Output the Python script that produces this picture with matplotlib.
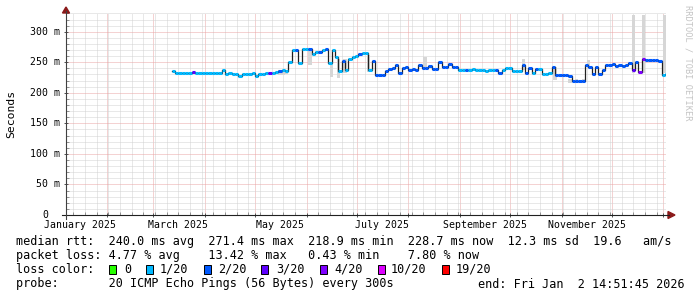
import numpy as np
import matplotlib
matplotlib.use('Agg')
import matplotlib.pyplot as plt
import matplotlib.dates as mdates
from matplotlib.patches import Rectangle, Polygon
from matplotlib.lines import Line2D
from matplotlib.ticker import MultipleLocator, NullFormatter

W, H = 697, 297
MONO = 'DejaVu Sans Mono'

# median rtt in ms, one sample every 2 days starting 2025-03-12
first_sample = '2025-03-12'
median_ms = [
    236, 233, 232, 232, 233, 232, 234, 233, 233, 232,
    233, 232, 233, 232, 233, 238, 231, 232, 230, 231,
    227, 230, 231, 230, 232, 227, 230, 231, 232, 232,
    233, 234, 236, 237, 236, 251, 270, 270, 248, 271,
    271, 271, 264, 267, 266, 270, 271, 249, 270, 258,
    236, 252, 237, 256, 258, 260, 263, 265, 265, 237,
    252, 229, 229, 229, 236, 239, 240, 245, 232, 241,
    242, 238, 239, 237, 246, 240, 240, 244, 239, 239,
    250, 243, 243, 247, 243, 243, 238, 237, 237, 238,
    239, 238, 237, 238, 236, 237, 237, 237, 233, 237,
    240, 240, 236, 236, 236, 245, 232, 240, 232, 239,
    239, 231, 230, 232, 243, 229, 229, 229, 229, 228,
    220, 219, 220, 220, 245, 243, 230, 243, 230, 237,
    246, 245, 247, 244, 246, 244, 245, 248, 238, 251,
    234, 256, 253, 253, 253, 253, 252, 229, 230,
]
# loss bucket of each sample (index into loss_labels)
loss_idx = [
    1, 1, 1, 1, 1, 1, 3, 1, 1, 1,
    1, 1, 1, 1, 1, 1, 1, 1, 1, 1,
    1, 1, 1, 1, 1, 1, 1, 1, 1, 3,
    1, 1, 2, 1, 1, 1, 1, 2, 1, 1,
    1, 2, 1, 1, 2, 1, 2, 1, 1, 1,
    1, 2, 1, 1, 1, 1, 2, 1, 1, 1,
    2, 2, 2, 2, 2, 2, 2, 2, 2, 2,
    2, 2, 2, 2, 2, 2, 2, 2, 2, 2,
    2, 2, 2, 2, 2, 2, 1, 1, 2, 1,
    1, 1, 1, 1, 1, 1, 1, 2, 2, 1,
    1, 1, 1, 1, 1, 2, 2, 2, 1, 2,
    1, 1, 1, 1, 2, 2, 2, 2, 2, 2,
    2, 2, 2, 2, 2, 2, 2, 2, 2, 2,
    2, 2, 2, 2, 2, 2, 2, 2, 3, 2,
    4, 4, 2, 2, 2, 2, 2, 1, 1,
]

# visible smoke (spread of the pings) in ms
smoke_dates = ['2025-05-15', '2025-05-17', '2025-05-19', '2025-06-02', '2025-06-15',
               '2025-06-19', '2025-06-23', '2025-07-07', '2025-08-10', '2025-10-08',
               '2025-10-27', '2025-11-05', '2025-11-09', '2025-11-13', '2025-11-16',
               '2025-12-13', '2025-12-19', '2026-01-01']
smoke_lo = [229, 229, 230, 245, 226, 224, 232, 234, 240, 237,
            221, 216, 216, 216, 240, 232, 232, 232]
smoke_hi = [238, 238, 238, 270, 251, 256, 255, 262, 259, 256,
            243, 222, 222, 222, 254, 327, 327, 327]

loss_labels = ['0', '1/20', '2/20', '3/20', '4/20', '10/20', '19/20']
loss_colors = ['#26ff00', '#00b8ff', '#0059ff', '#5e00ff', '#7e00ff', '#dd00ff', '#ff0000']

month_labels = ['January 2025', 'March 2025', 'May 2025', 'July 2025',
                'September 2025', 'November 2025']
month_label_dates = ['2025-01-16', '2025-03-16', '2025-05-16', '2025-07-16',
                     '2025-09-16', '2025-11-16']
ytick_vals = [0, 50, 100, 150, 200, 250, 300]
ytick_labels = ['0', '50 m', '100 m', '150 m', '200 m', '250 m', '300 m']

t_start = '2025-01-07T14:51:45'
t_end = '2026-01-02T14:51:45'

line_rtt = 'median rtt:  240.0 ms avg  271.4 ms max  218.9 ms min  228.7 ms now  12.3 ms sd  19.6   am/s'
line_loss = 'packet loss: 4.77 % avg    13.42 % max   0.43 % min    7.80 % now'
line_probe = 'probe:       20 ICMP Echo Pings (56 Bytes) every 300s'
line_end = 'end: Fri Jan  2 14:51:45 2026'


def fx(px):
    return px / W


def fy(py):
    return 1 - py / H


fig = plt.figure(figsize=(W / 100, H / 100), dpi=100)
fig.patch.set_facecolor('white')
ax = fig.add_axes([fx(66), fy(215), 600 / W, 201.6 / H])

days = np.datetime64(first_sample) + np.arange(len(median_ms)) * np.timedelta64(2, 'D')
x = mdates.date2num(days)
med = np.array(median_ms, dtype=float)

# smoke
sx = mdates.date2num(np.array(smoke_dates, dtype='datetime64[D]'))
lo = np.array(smoke_lo, dtype=float)
hi = np.array(smoke_hi, dtype=float)
ax.bar(sx, hi - lo, bottom=lo, width=2, align='edge', color='#d6d6d6', linewidth=0, zorder=2)

# median: thin dark step line, loss coloured on top
xe = np.append(x, x[-1] + 2)
ye = np.append(med, med[-1])
ax.step(xe, ye, where='post', color='#202020', lw=0.9, zorder=3)
ax.hlines(med, x, x + 2, colors=[loss_colors[i] for i in loss_idx], lw=2.2,
          capstyle='butt', zorder=4)

ax.set_xlim(mdates.date2num(np.datetime64(t_start)), mdates.date2num(np.datetime64(t_end)))
ax.set_ylim(0, 330)

ax.xaxis.set_major_locator(mdates.MonthLocator())
ax.xaxis.set_minor_locator(mdates.WeekdayLocator(byweekday=mdates.SU))
ax.yaxis.set_major_locator(MultipleLocator(50))
ax.yaxis.set_minor_locator(MultipleLocator(10))
for a in (ax.xaxis, ax.yaxis):
    a.set_major_formatter(NullFormatter())
    a.set_minor_formatter(NullFormatter())
ax.set_axisbelow(True)
ax.grid(which='minor', color='#d2d2d2', lw=0.72, linestyle=(0, (1, 1)))
ax.grid(which='major', color='#eaa6a6', lw=0.72, linestyle=(0, (1, 1)))
ax.tick_params(which='major', length=3, width=0.7, color='#505050', direction='inout')
ax.tick_params(which='minor', length=2, width=0.7, color='#909090', direction='in')
for s in ax.spines.values():
    s.set_visible(False)

# axes lines and arrows
fig.add_artist(Line2D([fx(62), fx(669)], [fy(215), fy(215)], color='#202020', lw=0.8))
fig.add_artist(Line2D([fx(66), fx(66)], [fy(219), fy(11)], color='#404040', lw=0.8))
fig.add_artist(Polygon([(fx(668), fy(211.5)), (fx(675), fy(215)), (fx(668), fy(218.5))],
                       closed=True, color='#8b1a1a', transform=fig.transFigure))
fig.add_artist(Polygon([(fx(62.5), fy(13)), (fx(66), fy(7)), (fx(69.5), fy(13))],
                       closed=True, color='#8b1a1a', transform=fig.transFigure))

# tick labels
for lab, d in zip(month_labels, month_label_dates):
    ax.text(mdates.date2num(np.datetime64(d)), (215 - 225) / 201.6, lab,
            transform=ax.get_xaxis_transform(), ha='center', va='center',
            fontsize=7.1, family=MONO)
for v, lab in zip(ytick_vals, ytick_labels):
    right = 60 if lab.endswith('m') else 48
    ax.text((right - 66) / 600, v, lab, transform=ax.get_yaxis_transform(),
            ha='right', va='center', fontsize=7.1, family=MONO)

fig.text(fx(11), fy(114), 'Seconds', rotation=90, ha='center', va='center',
         fontsize=8.2, family=MONO)
fig.text(fx(688), fy(5), 'RRDTOOL / TOBI OETIKER', rotation=270, ha='center', va='top',
         fontsize=6.2, family=MONO, color='#c4c4c4')

# legend block
fig.text(fx(16), fy(241), line_rtt, ha='left', va='center', fontsize=8.5, family=MONO)
fig.text(fx(16), fy(256), line_loss, ha='left', va='center', fontsize=8.5, family=MONO)
fig.text(fx(16), fy(269.5), 'loss color:', ha='left', va='center', fontsize=8.5, family=MONO)
box_x = [109, 146, 204, 261, 320, 378, 442]
text_x = [124, 160, 218, 276, 334, 391, 456]
for bx, tx, lab, col in zip(box_x, text_x, loss_labels, loss_colors):
    fig.add_artist(Rectangle((fx(bx), fy(274)), 7 / W, 9 / H, facecolor=col,
                             edgecolor='black', lw=0.7, transform=fig.transFigure))
    fig.text(fx(tx), fy(269.5), lab, ha='left', va='center', fontsize=8.5, family=MONO)
fig.text(fx(16), fy(284), line_probe, ha='left', va='center', fontsize=8.5, family=MONO)
fig.text(fx(478), fy(284), line_end, ha='left', va='center', fontsize=8.5, family=MONO)

fig.savefig('out.png', dpi=100)
